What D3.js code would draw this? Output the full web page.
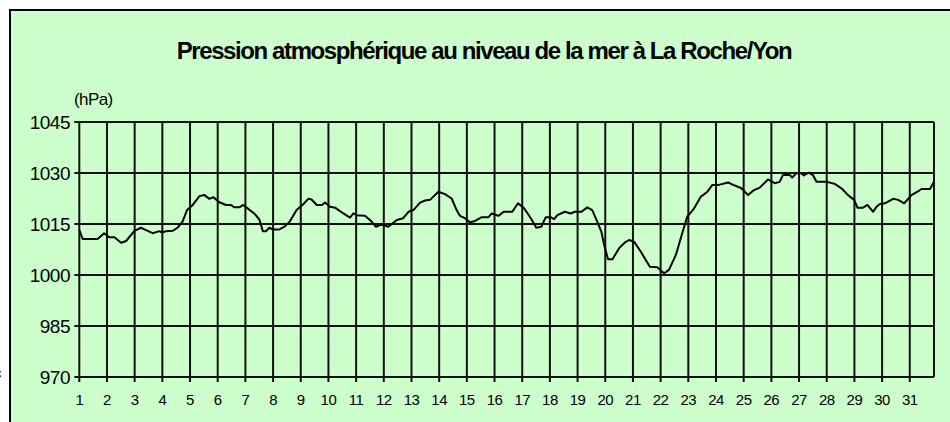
<!DOCTYPE html>
<html>
<head>
<meta charset="utf-8">
<script src="https://cdn.jsdelivr.net/npm/d3@7"></script>
<style>
  body { margin: 0; background: #fff; }
  text { font-family: "Liberation Sans", Arial, sans-serif; fill: #000; }
</style>
</head>
<body>
<div id="container"></div>
<script>
var titre = "Pression atmosphérique au niveau de la mer à La Roche/Yon";
var unite = "(hPa)";
var jours = d3.range(1, 32);
var graduations = [970, 985, 1000, 1015, 1030, 1045];

// position in days (day 1 = 1.0)
var temps = [1.0, 1.12, 1.66, 1.9, 2.08, 2.27, 2.51, 2.69, 2.99, 3.23, 3.41, 3.65, 3.89, 4.0, 4.13, 4.37, 4.55, 4.73, 4.89, 5.1,
  5.34, 5.52, 5.7, 5.84, 6.06, 6.3, 6.48, 6.6, 6.78, 6.92, 7.08, 7.32, 7.5, 7.63, 7.75, 7.86, 7.99, 8.23, 8.41, 8.6,
  8.85, 9.09, 9.27, 9.39, 9.58, 9.76, 9.88, 10.06, 10.24, 10.54, 10.78, 10.9, 11.02, 11.32, 11.5, 11.72, 11.86, 12.0, 12.16, 12.47,
  12.7, 12.89, 13.07, 13.31, 13.49, 13.67, 13.81, 13.97, 14.21, 14.45, 14.63, 14.75, 14.93, 15.11, 15.3, 15.54, 15.78, 15.9, 16.14, 16.33,
  16.64, 16.85, 17.07, 17.31, 17.51, 17.69, 17.85, 18.03, 18.15, 18.27, 18.54, 18.75, 18.9, 19.14, 19.35, 19.53, 19.71, 19.86, 19.96, 20.1,
  20.26, 20.5, 20.7, 20.86, 21.04, 21.28, 21.61, 21.88, 22.12, 22.3, 22.55, 22.78, 22.96, 23.21, 23.45, 23.69, 23.87, 24.1, 24.44, 24.62,
  24.92, 25.16, 25.34, 25.58, 25.88, 26.12, 26.3, 26.42, 26.66, 26.75, 26.9, 27.08, 27.17, 27.35, 27.5, 27.63, 27.99, 28.29, 28.53, 28.77,
  28.99, 29.11, 29.31, 29.47, 29.55, 29.68, 29.8, 29.92, 30.1, 30.4, 30.58, 30.8, 31.06, 31.28, 31.42, 31.73, 31.875];

var pression = [1013.2, 1010.6, 1010.6, 1012.3, 1011.1, 1011.1, 1009.5, 1010.0, 1013.0, 1013.9, 1013.2, 1012.3, 1012.9, 1012.5, 1012.9, 1013.0, 1013.9, 1015.7, 1019.1, 1020.6,
  1023.2, 1023.5, 1022.4, 1022.9, 1021.4, 1020.6, 1020.6, 1019.9, 1019.9, 1020.6, 1019.6, 1018.1, 1016.4, 1012.9, 1012.9, 1013.9, 1013.4, 1013.4, 1014.2, 1015.7,
  1019.1, 1020.8, 1022.4, 1022.2, 1020.6, 1020.6, 1021.3, 1020.1, 1019.8, 1018.1, 1016.9, 1018.1, 1017.6, 1017.4, 1016.2, 1014.2, 1014.7, 1014.7, 1014.2, 1016.2,
  1016.7, 1018.6, 1019.1, 1021.3, 1021.9, 1022.1, 1023.2, 1024.5, 1023.8, 1022.5, 1019.1, 1017.4, 1016.7, 1015.5, 1015.9, 1017.0, 1017.0, 1018.1, 1017.4, 1018.6,
  1018.6, 1021.1, 1019.6, 1016.7, 1013.9, 1014.2, 1017.0, 1017.0, 1016.4, 1017.6, 1018.6, 1018.1, 1018.6, 1018.6, 1019.9, 1019.1, 1015.7, 1012.7, 1008.8, 1004.6,
  1004.6, 1007.9, 1009.5, 1010.3, 1009.8, 1006.9, 1002.4, 1002.3, 1000.5, 1001.5, 1005.9, 1012.3, 1017.1, 1019.6, 1023.0, 1024.5, 1026.5, 1026.5, 1027.2, 1026.5,
  1025.5, 1023.5, 1024.8, 1025.7, 1028.1, 1027.0, 1027.4, 1029.4, 1029.4, 1028.7, 1029.9, 1029.9, 1029.3, 1030.1, 1029.4, 1027.4, 1027.4, 1026.8, 1025.5, 1023.5,
  1022.1, 1019.8, 1019.8, 1020.6, 1019.8, 1018.6, 1020.1, 1020.9, 1021.1, 1022.4, 1022.1, 1021.1, 1023.5, 1024.5, 1025.3, 1025.3, 1027.4];

var W = 950, H = 422;
// plot box (note: "top" is reserved on window, so prefix everything)
var pL = 79.3, pR = 934, pT = 122, pB = 377;

var svg = d3.select('#container').append('svg')
  .attr('width', W).attr('height', H);

// frame
svg.append('rect')
  .attr('x', 10).attr('y', 10)
  .attr('width', 960).attr('height', 440)
  .attr('fill', '#ccffcc')
  .attr('stroke', '#000').attr('stroke-width', 2);

// bit of cropped text on the left edge
svg.append('text')
  .attr('x', -6).attr('y', 378)
  .style('font-size', '15px')
  .text('c');

var x = d3.scaleLinear().domain([1, 31.875]).range([pL, pR]);
var y = d3.scaleLinear().domain([970, 1045]).range([pB, pT]);

var grid = svg.append('g').attr('stroke', '#111').attr('stroke-width', 2);

// horizontal lines + ticks
grid.selectAll('line.h')
  .data(graduations)
  .enter().append('line')
  .attr('class', 'h')
  .attr('x1', pL - 5).attr('x2', pR)
  .attr('y1', function(d) { return y(d); })
  .attr('y2', function(d) { return y(d); });

// vertical lines + ticks
grid.selectAll('line.v')
  .data(jours)
  .enter().append('line')
  .attr('class', 'v')
  .attr('x1', function(d) { return x(d); })
  .attr('x2', function(d) { return x(d); })
  .attr('y1', pT).attr('y2', pB + 5);

grid.append('line')
  .attr('x1', pR).attr('x2', pR)
  .attr('y1', pT).attr('y2', pB);

// ====== labels
svg.selectAll('text.ylab')
  .data(graduations)
  .enter().append('text')
  .attr('class', 'ylab')
  .attr('x', 70)
  .attr('y', function(d) { return y(d); })
  .attr('dy', '0.36em')
  .attr('text-anchor', 'end')
  .style('font-size', '19px')
  .style('letter-spacing', '-0.5px')
  .text(function(d) { return d; });

svg.selectAll('text.xlab')
  .data(jours)
  .enter().append('text')
  .attr('class', 'xlab')
  .attr('x', function(d) { return x(d); })
  .attr('y', 404.5)
  .attr('text-anchor', 'middle')
  .style('font-size', '15px')
  .style('letter-spacing', '-0.5px')
  .text(function(d) { return d; });

svg.append('text')
  .attr('x', 74).attr('y', 105)
  .style('font-size', '17px')
  .style('letter-spacing', '-0.6px')
  .text(unite);

svg.append('text')
  .attr('x', 484).attr('y', 59)
  .attr('text-anchor', 'middle')
  .style('font-size', '24px')
  .style('font-weight', 'bold')
  .style('letter-spacing', '-1.4px')
  .text(titre);

// ====== the curve
var pts = temps.map(function(t, i) { return [t, pression[i]]; });

var line = d3.line()
  .x(function(d) { return x(d[0]); })
  .y(function(d) { return y(d[1]); });

svg.append('path')
  .datum(pts)
  .attr('d', line)
  .attr('fill', 'none')
  .attr('stroke', '#000')
  .attr('stroke-width', 2)
  .attr('stroke-linejoin', 'round');
</script>
</body>
</html>
